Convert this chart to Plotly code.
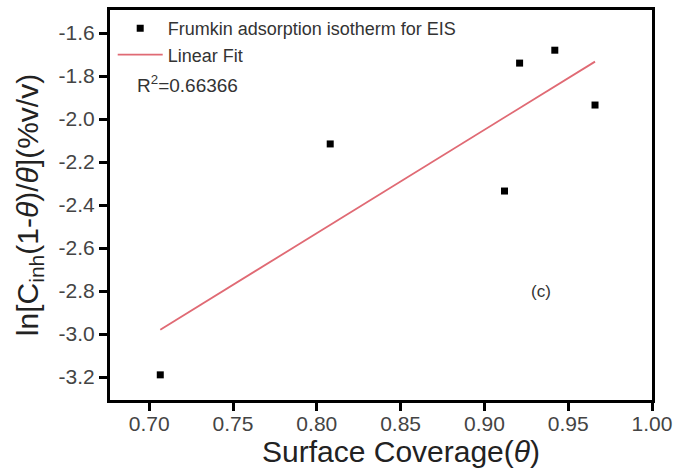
import numpy as np
import plotly.graph_objects as go

# Data
theta = [0.7066, 0.808, 0.912, 0.921, 0.942, 0.966]
ln_val = [-3.19, -2.116, -2.335, -1.74, -1.68, -1.935]
r2_label = "R<sup>2</sup>=0.66366"
panel_label = "(c)"
x_ticks = [0.70, 0.75, 0.80, 0.85, 0.90, 0.95, 1.00]
y_ticks = [-1.6, -1.8, -2.0, -2.2, -2.4, -2.6, -2.8, -3.0, -3.2]

# Linear fit computed from the data
slope, intercept = np.polyfit(theta, ln_val, 1)
fit_x = [min(theta), max(theta)]
fit_y = [slope * v + intercept for v in fit_x]

FONT = "Liberation Sans, Arial, sans-serif"

fig = go.Figure()
fig.add_trace(go.Scatter(
    x=theta, y=ln_val, mode="markers",
    marker=dict(symbol="square", size=7, color="black"),
    name="Frumkin adsorption isotherm for EIS"))
fig.add_trace(go.Scatter(
    x=fit_x, y=fit_y, mode="lines",
    line=dict(color="#e06a74", width=1.8),
    name="Linear Fit"))

fig.add_annotation(x=0.046, y=0.81, xref="paper", yref="paper", text=r2_label,
                   showarrow=False, xanchor="left", yanchor="middle",
                   font=dict(family=FONT, size=19, color="#333"))
fig.add_annotation(x=0.934, y=-2.8, xref="x", yref="y", text=panel_label,
                   showarrow=False, xanchor="center", yanchor="middle",
                   font=dict(family=FONT, size=17, color="#333"))
fig.add_annotation(x=0.537, y=-0.133, xref="paper", yref="paper",
                   text="Surface Coverage(<i>θ</i>)",
                   showarrow=False, xanchor="center", yanchor="middle",
                   font=dict(family=FONT, size=30, color="#222"))

axis_common = dict(showline=True, linecolor="black", linewidth=3, mirror=True,
                   ticks="outside", ticklen=8, tickwidth=3, tickcolor="black",
                   showgrid=False, zeroline=False, automargin=False,
                   tickfont=dict(family=FONT, size=21, color="#444"))

fig.update_xaxes(range=[0.6766, 1.0], tickvals=x_ticks,
                 ticktext=[f"{v:.2f}" for v in x_ticks],
                 ticklabelstandoff=-5,
                 **axis_common)
fig.update_yaxes(range=[-3.307, -1.493], tickvals=y_ticks,
                 ticktext=[f"{v:.1f}" for v in y_ticks],
                 title=dict(text="ln[C<sub>inh</sub>(1-<i>θ</i>)/<i>θ</i>](%v/v)", standoff=12,
                            font=dict(family=FONT, size=30, color="#222")),
                 **axis_common)

fig.update_layout(
    width=676, height=470,
    margin=dict(l=110, r=24, t=10, b=70),
    paper_bgcolor="white", plot_bgcolor="white",
    showlegend=True,
    legend=dict(x=0.005, y=1.0, xanchor="left", yanchor="top",
                bgcolor="rgba(0,0,0,0)", itemwidth=45, tracegroupgap=0,
                font=dict(family=FONT, size=18, color="#333")),
)

fig.write_html("out.html")
